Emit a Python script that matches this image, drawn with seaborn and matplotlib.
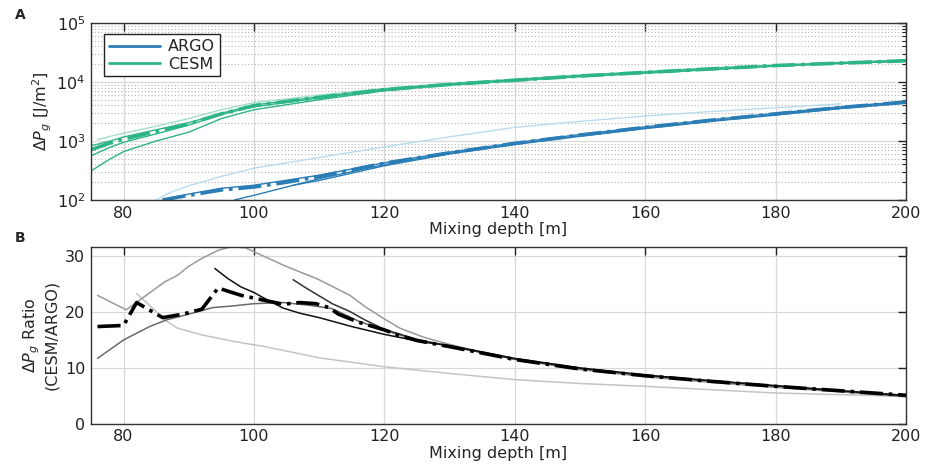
import matplotlib
matplotlib.use("Agg")
import matplotlib.pyplot as plt
from matplotlib.lines import Line2D
import seaborn as sns

sns.set_style("white")
plt.rcParams['font.family'] = ['DejaVu Sans']
plt.rcParams['mathtext.fontset'] = 'dejavusans'

# ---- panel A: potential energy change, J/m^2 ----
cesm_depth = [75, 78, 80, 85, 90, 95, 100, 110, 120, 130, 140, 150, 160, 170, 180, 190, 200]
cesm_mean = [710, 930, 1070, 1450, 1950, 2880, 3980, 5500, 7400, 9100, 10700, 12600, 14500, 16600, 19000, 20900, 22900]
cesm_m1 = [310, 500, 660, 1000, 1410, 2400, 3390, 5000, 7100, 8900, 10500, 12300, 14100, 16200, 18600, 20900, 22400]
cesm_m2 = [560, 790, 950, 1320, 1860, 2820, 3800, 5370, 7400, 8900, 10500, 12400, 14200, 16300, 18700, 20500, 22500]
cesm_m3 = [830, 1000, 1170, 1550, 2040, 2950, 4070, 5600, 7600, 9300, 11000, 12900, 14800, 17000, 19100, 21400, 23400]
cesm_light_depth = [76, 78, 80, 85, 90, 95, 100, 110, 120, 130, 140, 150, 160, 170, 180, 190, 200]
cesm_light = [1050, 1200, 1350, 1780, 2400, 3390, 4470, 6000, 7800, 9500, 11200, 13200, 15100, 17400, 19500, 21400, 23400]

argo_mean_depth = [86, 88, 90, 95, 100, 105, 110, 120, 130, 140, 150, 160, 170, 180, 190, 200]
argo_mean = [100, 110, 120, 148, 166, 200, 250, 420, 630, 910, 1260, 1700, 2240, 2880, 3700, 4570]
argo_m1_depth = [97, 100, 105, 110, 120, 130, 140, 150, 160, 170, 180, 190, 200]
argo_m1 = [100, 120, 166, 229, 398, 617, 891, 1230, 1660, 2190, 2820, 3630, 4470]
argo_m2_depth = [106, 110, 120, 130, 140, 150, 160, 170, 180, 190, 200]
argo_m2 = [178, 214, 380, 603, 871, 1200, 1620, 2140, 2750, 3550, 4370]
argo_m3_depth = [86, 90, 95, 100, 110, 120, 130, 140, 150, 160, 170, 180, 190, 200]
argo_m3 = [100, 126, 158, 178, 263, 427, 646, 933, 1290, 1740, 2290, 2950, 3800, 4680]
argo_light_depth = [85, 87, 90, 95, 100, 110, 120, 130, 140, 150, 160, 170, 180, 190]
argo_light = [100, 132, 174, 251, 347, 525, 794, 1175, 1700, 2150, 2650, 3150, 3650, 4270]

# ---- panel B: CESM/ARGO ratio ----
ratio_mean_depth = [76, 80, 82, 86, 89, 92, 94.5, 98, 102, 104.5, 107, 109.5, 111.5, 113, 116, 120, 122,
                    125, 130, 140, 150, 160, 170, 180, 190, 200]
ratio_mean = [17.4, 17.6, 21.7, 19.0, 19.6, 20.5, 24.3, 23.0, 22.0, 21.4, 21.7, 21.5, 20.8, 19.6, 18.2, 16.8, 15.9,
              14.9, 13.8, 11.5, 9.8, 8.6, 7.6, 6.7, 5.9, 5.1]
ratio_a_depth = [94, 96, 98, 100, 102, 104.5, 107, 110, 115, 120, 123, 126, 130, 140, 150, 160, 170, 180, 190, 200]
ratio_a = [27.8, 26.0, 24.5, 23.5, 22.2, 20.7, 19.8, 19.0, 17.4, 16.0, 15.3, 14.6, 14.0, 11.7, 10.0, 8.7, 7.7, 6.8, 5.9, 5.0]
ratio_b_depth = [106, 108, 110, 112, 114.7, 117, 120, 125, 130, 140, 150, 160, 170, 180, 190, 200]
ratio_b = [25.8, 24.3, 22.9, 21.5, 20.1, 18.6, 16.9, 15.1, 13.9, 11.6, 9.9, 8.7, 7.7, 6.8, 5.9, 5.1]
ratio_c_depth = [76, 80.4, 81.7, 84.2, 86.3, 88.3, 90, 92, 94.6, 96.6, 98.7, 101.7, 104.5, 107, 109.6, 112, 114.7,
                 117, 119.8, 122.4, 126, 130, 135, 140, 150, 160, 170, 180, 190, 200]
ratio_c = [23.0, 20.4, 21.5, 23.6, 25.4, 26.6, 28.2, 29.6, 31.1, 31.7, 31.5, 29.9, 28.4, 27.2, 26.0, 24.6, 23.0,
           21.0, 18.9, 17.1, 15.5, 14.2, 12.8, 11.5, 9.7, 8.4, 7.4, 6.5, 5.7, 4.8]
ratio_d_depth = [76, 80, 84, 86.6, 89.6, 93.7, 96.8, 100, 104.5, 108.6, 112, 116, 120, 125, 130, 140, 150, 160,
                 170, 180, 190, 200]
ratio_d = [11.7, 15.0, 17.4, 18.6, 19.5, 20.8, 21.1, 21.5, 21.7, 21.2, 20.6, 18.4, 16.7, 15.0, 13.9, 11.6, 9.9, 8.6,
           7.6, 6.7, 5.8, 4.9]
ratio_e_depth = [82, 84.2, 86.3, 88.3, 92, 97.1, 101.7, 110, 120, 130, 140, 150, 160, 170, 180, 190, 200]
ratio_e = [23.3, 21.0, 18.6, 17.1, 15.9, 14.7, 13.8, 11.8, 10.2, 9.0, 7.9, 7.2, 6.7, 6.1, 5.5, 5.2, 4.9]

argo_col = '#2a7db5'
cesm_col = '#2db585'
fs = 11.5

fig = plt.figure(figsize=(9.31, 4.73), dpi=100)
ax1 = fig.add_axes([0.0977, 0.5772, 0.8754, 0.3742])
ax2 = fig.add_axes([0.0977, 0.1042, 0.8754, 0.3742])

# panel A
sns.lineplot(x=argo_light_depth, y=argo_light, ax=ax1, color='#b9dcec', lw=1.0)
sns.lineplot(x=cesm_light_depth, y=cesm_light, ax=ax1, color='#a3dfc8', lw=1.0)
for d, v in [(argo_m1_depth, argo_m1), (argo_m2_depth, argo_m2), (argo_m3_depth, argo_m3)]:
    sns.lineplot(x=d, y=v, ax=ax1, color=argo_col, lw=1.0)
for v in [cesm_m1, cesm_m2, cesm_m3]:
    sns.lineplot(x=cesm_depth, y=v, ax=ax1, color=cesm_col, lw=1.0)
sns.lineplot(x=argo_mean_depth, y=argo_mean, ax=ax1, color=argo_col, lw=2.6, linestyle='-.')
sns.lineplot(x=cesm_depth, y=cesm_mean, ax=ax1, color=cesm_col, lw=2.6, linestyle='-.')

ax1.set_yscale('log')
ax1.set_ylim(1e2, 1e5)
ax1.set_xlim(75, 200)
ax1.set_xticks([80, 100, 120, 140, 160, 180, 200])
ax1.grid(True, which='major', color='#d9d9d9', lw=0.9)
ax1.grid(True, which='minor', axis='y', color='#b5b5b5', ls=(0, (1, 2)), lw=0.8)
ax1.set_xlabel('Mixing depth [m]', fontsize=fs, labelpad=1)
ax1.set_ylabel(r'$\mathit{\Delta P_g}$ [J/m$^2$]', fontsize=fs, labelpad=2)
handles = [Line2D([], [], color=argo_col, lw=2), Line2D([], [], color=cesm_col, lw=2)]
leg = ax1.legend(handles, ['ARGO', 'CESM'], loc='upper left', bbox_to_anchor=(0.016, 0.935),
                 borderaxespad=0, fancybox=False, framealpha=1, edgecolor='#222222',
                 fontsize=fs, handlelength=3.2, handletextpad=0.5, borderpad=0.3, labelspacing=0.15)
leg.get_frame().set_linewidth(1.0)

# panel B
sns.lineplot(x=ratio_e_depth, y=ratio_e, ax=ax2, color='#c4c4c4', lw=1.1)
sns.lineplot(x=ratio_c_depth, y=ratio_c, ax=ax2, color='#9a9a9a', lw=1.1)
sns.lineplot(x=ratio_d_depth, y=ratio_d, ax=ax2, color='#6a6a6a', lw=1.1)
sns.lineplot(x=ratio_b_depth, y=ratio_b, ax=ax2, color='#333333', lw=1.1)
sns.lineplot(x=ratio_a_depth, y=ratio_a, ax=ax2, color='#111111', lw=1.1)
sns.lineplot(x=ratio_mean_depth, y=ratio_mean, ax=ax2, color='black', lw=2.6, linestyle='-.')

ax2.set_xlim(75, 200)
ax2.set_ylim(0, 31.7)
ax2.set_xticks([80, 100, 120, 140, 160, 180, 200])
ax2.set_yticks([0, 10, 20, 30])
ax2.grid(True, which='major', color='#d9d9d9', lw=0.9)
ax2.set_xlabel('Mixing depth [m]', fontsize=fs, labelpad=1)
ax2.set_ylabel('$\\mathit{\\Delta P_g}$ Ratio\n(CESM/ARGO)', fontsize=fs, labelpad=4)

for ax in (ax1, ax2):
    ax.set_axisbelow(True)
    ax.tick_params(which='both', direction='in', top=True, right=True, labelsize=fs,
                   colors='#222222', pad=4)
    ax.tick_params(which='major', length=6, width=1)
    ax.tick_params(which='minor', length=3, width=0.8)
    ax.tick_params(axis='x', which='minor', bottom=False, top=False)
    for s in ax.spines.values():
        s.set_color('#333333')
        s.set_linewidth(1.0)

fig.text(0.016, 0.968, 'A', fontsize=10, fontweight='bold', va='center')
fig.text(0.016, 0.497, 'B', fontsize=10, fontweight='bold', va='center')

fig.savefig('out.png', dpi=100)
